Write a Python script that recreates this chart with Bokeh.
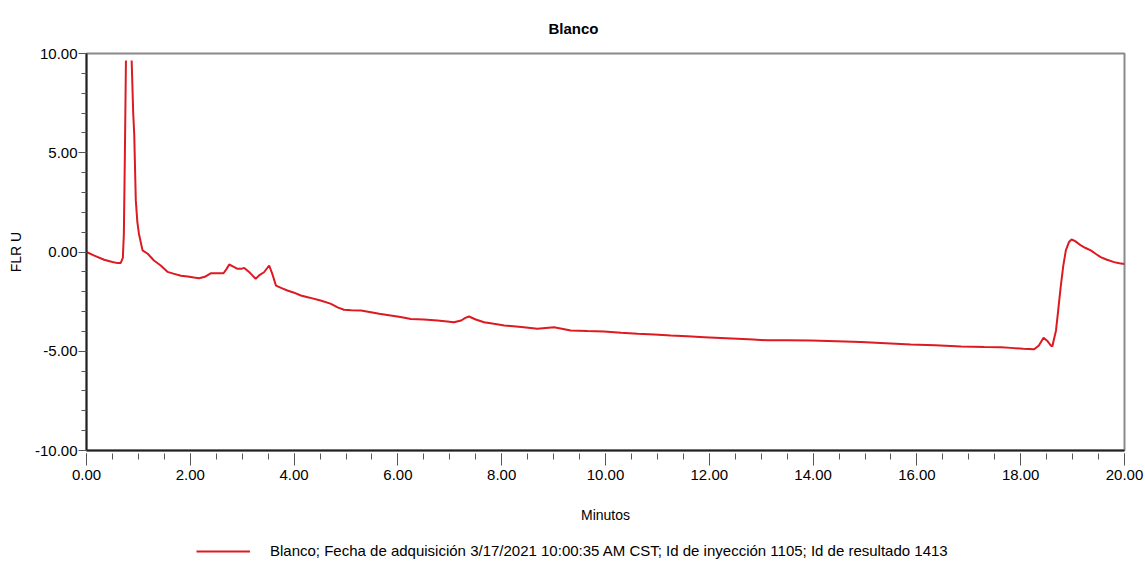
from bokeh.plotting import figure
from bokeh.layouts import column
from bokeh.models import (Legend, LegendItem, SingleIntervalTicker,
                          NumeralTickFormatter, ColumnDataSource, Range1d)
from bokeh.embed import file_html
from bokeh.resources import INLINE

# Fluorescence trace of the blank injection (time in minutes, signal in FLR U)
time_min = [0.00, 0.15, 0.34, 0.50, 0.60, 0.66, 0.70, 0.72, 0.74, 0.76, 0.81,
            0.87, 0.90, 0.92, 0.95, 0.98, 1.01, 1.08, 1.18, 1.30, 1.43, 1.56,
            1.69, 1.82, 1.95, 2.07, 2.17, 2.28, 2.40, 2.52, 2.64, 2.70, 2.75,
            2.82, 2.91, 2.98, 3.04, 3.15, 3.26, 3.34, 3.42, 3.52, 3.58, 3.65,
            3.76, 3.87, 4.00, 4.13, 4.30, 4.51, 4.70, 4.85, 4.96, 5.10, 5.29,
            5.48, 5.64, 5.86, 6.05, 6.25, 6.50, 6.76, 6.95, 7.08, 7.22, 7.30,
            7.37, 7.50, 7.66, 7.85, 8.05, 8.38, 8.69, 9.01, 9.33, 9.65, 9.97,
            10.30, 10.62, 10.94, 11.26, 11.58, 11.90, 12.22, 12.54, 12.85,
            13.12, 13.50, 13.96, 14.45, 14.92, 15.40, 15.88, 16.35, 16.85,
            17.30, 17.62, 17.81, 18.05, 18.26, 18.35, 18.44, 18.52, 18.58,
            18.61, 18.68, 18.72, 18.77, 18.82, 18.87, 18.93, 18.98, 19.05,
            19.16, 19.25, 19.35, 19.45, 19.54, 19.65, 19.80, 19.90, 20.00]
flr_u = [0.00, -0.18, -0.39, -0.50, -0.56, -0.55, -0.30, 0.90, 5.00, 9.65,
         float("nan"),
         9.65, 7.00, 5.90, 2.60, 1.50, 0.92, 0.08, -0.09, -0.43, -0.68, -1.00,
         -1.10, -1.20, -1.23, -1.28, -1.32, -1.25, -1.07, -1.07, -1.07, -0.85,
         -0.63, -0.72, -0.85, -0.85, -0.80, -1.05, -1.35, -1.15, -1.02, -0.68,
         -1.10, -1.69, -1.82, -1.94, -2.05, -2.19, -2.30, -2.44, -2.60, -2.80,
         -2.91, -2.94, -2.95, -3.03, -3.11, -3.20, -3.28, -3.37, -3.40, -3.45,
         -3.50, -3.54, -3.45, -3.32, -3.25, -3.40, -3.54, -3.62, -3.70, -3.78,
         -3.87, -3.79, -3.95, -3.98, -4.00, -4.07, -4.12, -4.16, -4.21, -4.25,
         -4.29, -4.33, -4.37, -4.41, -4.45, -4.44, -4.46, -4.50, -4.54, -4.60,
         -4.66, -4.70, -4.76, -4.79, -4.80, -4.83, -4.88, -4.90, -4.71, -4.32,
         -4.50, -4.71, -4.75, -3.95, -3.00, -1.77, -0.70, 0.08, 0.50, 0.63,
         0.55, 0.33, 0.20, 0.08, -0.10, -0.26, -0.38, -0.51, -0.57, -0.60]

series_label = ("Blanco; Fecha de adquisición 3/17/2021 10:00:35 AM CST; "
                "Id de inyección 1105; Id de resultado 1413")
chart_title = "Blanco"
x_title = "Minutos"
y_title = "FLR U"

FONT = "'Liberation Sans', Arial, sans-serif"
TRACE = "#dc1a20"

p = figure(width=1145, height=533, x_range=(0, 20), y_range=(-10, 10),
           output_backend="svg", toolbar_location=None,
           min_border_left=86, min_border_right=21,
           min_border_top=53, min_border_bottom=83)
p.background_fill_color = "white"
p.border_fill_color = "white"
p.outline_line_color = "#8a8a8a"
p.outline_line_width = 2
p.xgrid.visible = False
p.ygrid.visible = False

src = ColumnDataSource(dict(t=time_min, v=flr_u))
trace = p.line("t", "v", source=src, line_color=TRACE, line_width=2)

# title
p.title.text = chart_title
p.title.align = "left"
p.title.offset = 462
p.title.text_font = FONT
p.title.text_font_size = "15px"
p.title.text_font_style = "bold"
p.title.text_color = "black"
p.title.standoff = 33

# x axis
xa = p.xaxis[0]
xa.ticker = SingleIntervalTicker(interval=2, num_minor_ticks=4)
xa.formatter = NumeralTickFormatter(format="0.00")
xa.axis_line_color = "#222222"
xa.axis_line_width = 2
xa.major_tick_in = -3
xa.major_tick_out = 15
xa.minor_tick_in = -3
xa.minor_tick_out = 9
xa.major_tick_line_color = "#555555"
xa.minor_tick_line_color = "#555555"
xa.major_label_text_font = FONT
xa.major_label_text_font_size = "15px"
xa.major_label_text_color = "black"
xa.major_label_standoff = 4
xa.axis_label = x_title
xa.axis_label_text_font = FONT
xa.axis_label_text_font_size = "14px"
xa.axis_label_text_font_style = "normal"
xa.axis_label_text_color = "black"
xa.axis_label_standoff = 24

# y axis
ya = p.yaxis[0]
ya.ticker = SingleIntervalTicker(interval=5, num_minor_ticks=5)
ya.formatter = NumeralTickFormatter(format="0.00")
ya.axis_line_color = "#222222"
ya.axis_line_width = 2
ya.major_tick_in = 0
ya.major_tick_out = 8
ya.minor_tick_in = 0
ya.minor_tick_out = 5
ya.major_tick_line_color = "#555555"
ya.minor_tick_line_color = "#555555"
ya.major_label_text_font = FONT
ya.major_label_text_font_size = "15px"
ya.major_label_text_color = "black"
ya.major_label_standoff = 1
ya.axis_label = y_title
ya.axis_label_text_font = FONT
ya.axis_label_text_font_size = "14px"
ya.axis_label_text_font_style = "normal"
ya.axis_label_text_color = "black"
ya.axis_label_standoff = 8

# legend strip beneath the chart; the series is drawn outside its view,
# so only the legend key of the trace shows
leg = figure(width=1145, height=30, output_backend="svg", toolbar_location=None,
             x_axis_location=None, y_axis_location=None,
             x_range=Range1d(0, 20), y_range=Range1d(100, 101),
             min_border_left=0, min_border_right=0,
             min_border_top=0, min_border_bottom=0)
leg.outline_line_color = None
leg.xgrid.visible = False
leg.ygrid.visible = False
key = leg.line("t", "v", source=src, line_color=TRACE, line_width=2)
legend = Legend(items=[LegendItem(label=series_label, renderers=[key])],
                location=(110, 4), orientation="horizontal",
                glyph_width=54, glyph_height=16, label_standoff=20,
                padding=0, margin=0, spacing=0,
                border_line_color=None, background_fill_alpha=0,
                label_text_font=FONT, label_text_font_size="15px",
                label_text_color="black")
leg.add_layout(legend, "center")

open("out.html", "w").write(file_html(column(p, leg, spacing=0), INLINE))
